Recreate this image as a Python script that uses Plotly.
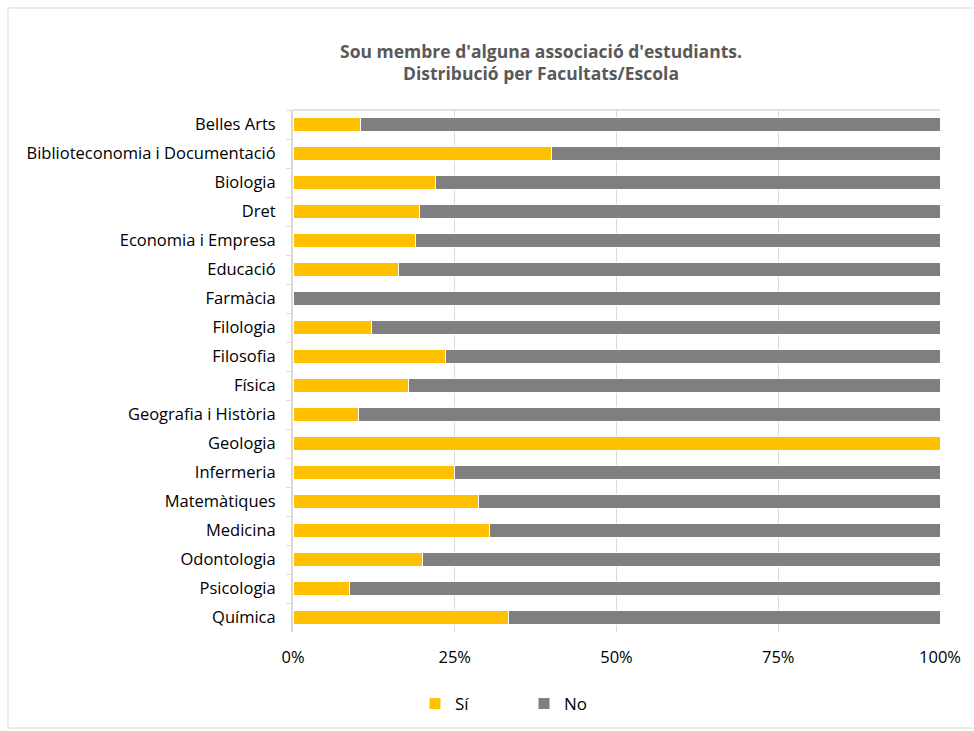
import plotly.graph_objects as go

facultats = [
    "Belles Arts", "Biblioteconomia i Documentació", "Biologia", "Dret",
    "Economia i Empresa", "Educació", "Farmàcia", "Filologia", "Filosofia",
    "Física", "Geografia i Història", "Geologia", "Infermeria",
    "Matemàtiques", "Medicina", "Odontologia", "Psicologia", "Química",
]
si_pct = [10.5, 40.0, 22.0, 19.5, 18.9, 16.3, 0.0, 12.2, 23.6,
          17.8, 10.1, 100.0, 25.0, 28.6, 30.4, 20.0, 8.7, 33.3]
no_pct = [100 - v for v in si_pct]

x_ticks = [0, 25, 50, 75, 100]
x_tick_labels = ["0%", "25%", "50%", "75%", "100%"]

W, H = 974, 731
ML, MR, MT, MB = 293, 34, 110, 99
PW, PH = W - ML - MR, H - MT - MB

FONT = "'Open Sans', Lato, sans-serif"
FS = 16.5

fig = go.Figure()
fig.add_trace(go.Bar(
    y=facultats, x=si_pct, name="Sí", orientation="h",
    marker=dict(color="#FFC000", line=dict(color="white", width=1)),
))
fig.add_trace(go.Bar(
    y=facultats, x=no_pct, name="No", orientation="h",
    marker=dict(color="#7F7F7F", line=dict(color="white", width=1)),
))

fig.update_layout(
    width=W, height=H,
    margin=dict(l=ML, r=MR, t=MT, b=MB, pad=0, autoexpand=False),
    barmode="stack",
    bargap=0.55,
    plot_bgcolor="white",
    paper_bgcolor="white",
    font=dict(family=FONT, size=FS, color="#000000"),
    title=dict(
        text="<b>Sou membre d'alguna associació d'estudiants.<br>Distribució per Facultats/Escola</b>",
        x=541 / W, xanchor="center",
        y=1 - 57.5 / H, yanchor="middle",
        font=dict(family=FONT, size=17.5, color="#595959"),
    ),
    legend=dict(
        orientation="h",
        xref="container", yref="container",
        x=524 / W, xanchor="center",
        y=1 - 704 / H, yanchor="middle",
        font=dict(family=FONT, size=FS + 0.5, color="#000000"),
        itemwidth=30, entrywidth=64, entrywidthmode="pixels",
        tracegroupgap=0, traceorder="normal",
    ),
    xaxis=dict(
        range=[0, 100], tickvals=x_ticks, ticktext=x_tick_labels,
        showgrid=True, gridcolor="#D9D9D9", gridwidth=1,
        zeroline=False, showline=False, ticks="",
        ticklabelstandoff=13,
        tickfont=dict(family=FONT, size=FS, color="#000000"),
        fixedrange=True,
    ),
    yaxis=dict(
        categoryorder="array", categoryarray=facultats,
        autorange="reversed",
        showline=True, linecolor="#D9D9D9", linewidth=2,
        ticks="outside", tickson="boundaries", ticklen=5,
        tickcolor="#D9D9D9", tickwidth=1,
        showgrid=False, ticklabelstandoff=12,
        tickfont=dict(family=FONT, size=FS, color="#000000"),
    ),
    showlegend=True,
)

# top edge of the plot area
fig.add_shape(type="line", xref="paper", yref="paper",
              x0=0, x1=1, y0=1, y1=1,
              line=dict(color="#D9D9D9", width=1.5))
# outer chart border
fig.add_shape(type="rect", xref="paper", yref="paper",
              x0=(8 - ML) / PW, x1=(W + 5 - ML) / PW,
              y0=-(H - 3 - (MT + PH)) / PH, y1=1 + (MT - 8) / PH,
              line=dict(color="#D9D9D9", width=1))

fig.write_html("out.html")
